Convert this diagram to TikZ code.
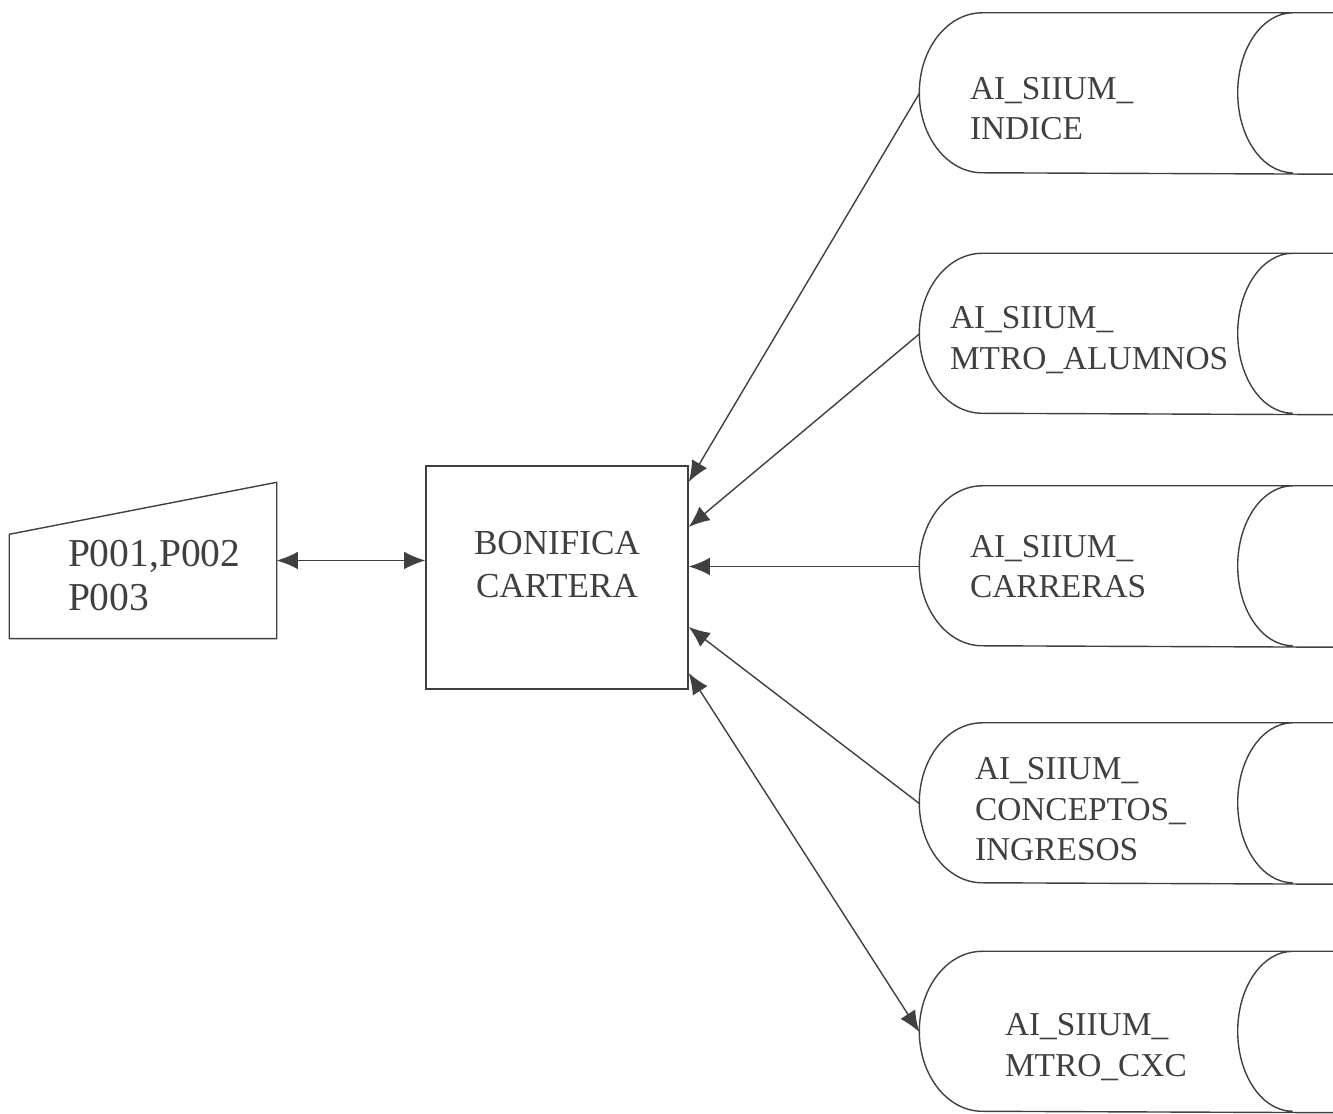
\documentclass[tikz,border=0pt]{standalone}
\usepackage{fontspec}
\setmainfont{Liberation Serif}
\usetikzlibrary{positioning}
\usetikzlibrary{calc}
\usetikzlibrary{arrows.meta}
\tikzset{every picture/.style={line width=0.8pt,color=black!75,>={Latex[length=12pt,width=10pt]}},
caja/.style={draw,minimum width=5.24cm,minimum height=4.46cm,align=center,text depth=15pt,font=\fontsize{20}{24}\selectfont},
almacen/.style={minimum width=8.26cm,minimum height=3.2cm,inner sep=0pt},
texto/.style={align=left,anchor=west,inner sep=0pt,font=\fontsize{19}{23}\selectfont}}

\begin{document}
\begin{tikzpicture}
\useasboundingbox (0,0) rectangle (26.66,22.28);
\node[minimum width=5.32cm,minimum height=3.1cm,inner sep=0pt] (entrada) at (2.86,11.07) {};
\draw (entrada.south west) -- (entrada.south east) -- (entrada.north east) -- ([yshift=-1.04cm]entrada.north west) -- cycle;
\node[texto,font=\fontsize{22.5}{25}\selectfont] (entrada-txt) at ([xshift=1.16cm,yshift=-0.3cm]entrada.west) {P001,P002\\P003};
\node[caja] (caja) at (11.14,10.73) {BONIFICA\\CARTERA};
\node[almacen] (indice) at (22.53,20.41) {};
\node[almacen] (alumnos) at (22.53,15.6) {};
\node[almacen] (carreras) at (22.53,10.95) {};
\node[almacen] (conceptos) at (22.53,6.21) {};
\node[almacen] (cxc) at (22.53,1.64) {};
\foreach \n in {indice,alumnos,carreras,conceptos,cxc}
  \draw ([xshift=1.26cm]\n.north west) -- (\n.north east)
    ([xshift=1.26cm]\n.north west) arc[start angle=90,end angle=270,x radius=1.26cm,y radius=1.6cm] -- (\n.south east)
    ([xshift=-0.82cm]\n.north east) arc[start angle=90,end angle=270,x radius=1.1cm,y radius=1.6cm];
\node[texto] (indice-txt) at ([xshift=1cm,yshift=-0.3cm]indice.west) {AI\_SIIUM\_\\INDICE};
\node[texto] (alumnos-txt) at ([xshift=0.6cm,yshift=-0.12cm]alumnos.west) {AI\_SIIUM\_\\MTRO\_ALUMNOS};
\node[texto] (carreras-txt) at ([xshift=1cm]carreras.west) {AI\_SIIUM\_\\CARRERAS};
\node[texto] (conceptos-txt) at ([xshift=1.1cm,yshift=-0.12cm]conceptos.west) {AI\_SIIUM\_\\CONCEPTOS\_\\INGRESOS};
\node[texto] (cxc-txt) at ([xshift=1.7cm,yshift=-0.3cm]cxc.west) {AI\_SIIUM\_\\MTRO\_CXC};
\draw[<->] (entrada.east) -- (entrada.east -| caja.west);
\draw[->] (indice.west) -- ([yshift=1.91cm]caja.east);
\draw[->] (alumnos.west) -- ([yshift=1.01cm]caja.east);
\draw[->] (carreras.west) -- (carreras.west -| caja.east);
\draw[->] (conceptos.west) -- ([yshift=-0.99cm]caja.east);
\draw[<->] ([yshift=-1.91cm]caja.east) -- (cxc.west);
\end{tikzpicture}
\end{document}
